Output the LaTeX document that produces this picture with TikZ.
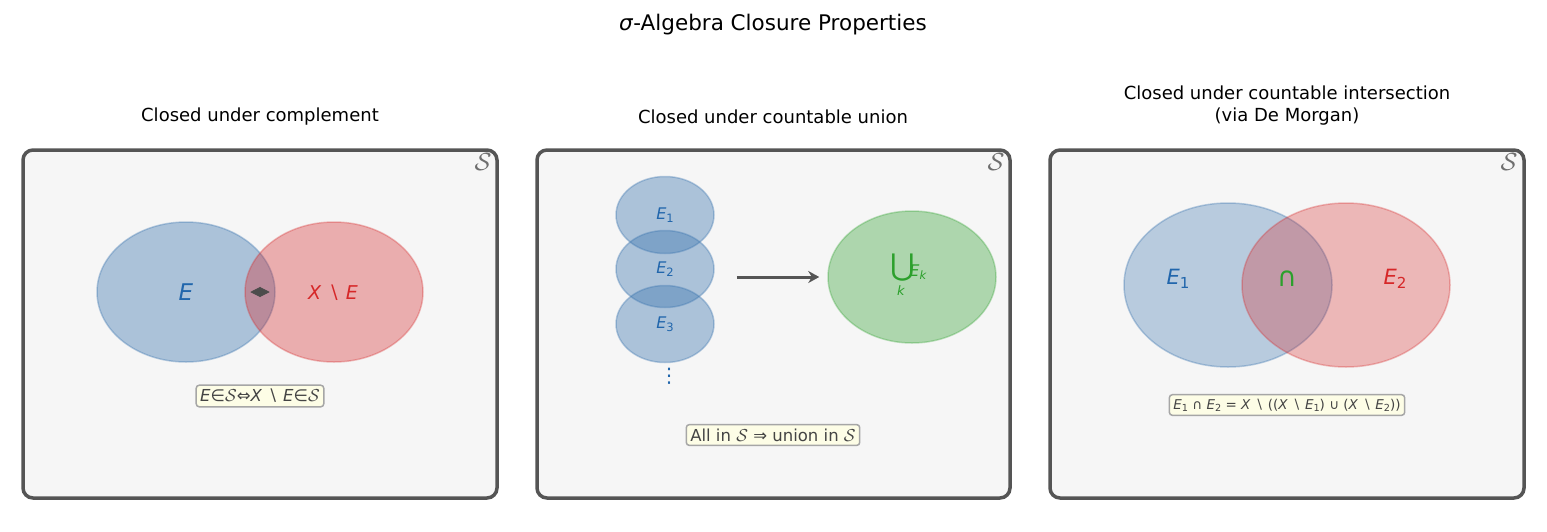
\documentclass[tikz,border=0pt]{standalone}
\usepackage{fontspec}
\setmainfont{DejaVu Sans}[ItalicFont={DejaVu Sans Oblique}]
\usepackage{tikz}
\usetikzlibrary{arrows.meta,shapes.geometric}
\definecolor{frame}{HTML}{555555}
\definecolor{panelbg}{HTML}{F6F6F6}
\definecolor{setblue}{HTML}{3B75AF}
\definecolor{setred}{HTML}{D62728}
\definecolor{setgreen}{HTML}{2CA02C}
\definecolor{lblblue}{HTML}{2166AC}
\definecolor{notebg}{HTML}{FDFDE6}
\definecolor{notetext}{HTML}{444444}
\newcommand{\fs}[1]{\fontsize{#1}{#1}\selectfont}
\newcommand{\low}[1]{\raisebox{-.3ex}{\scalebox{.72}{#1}}}
\begin{document}
\begin{tikzpicture}[x=1pt,y=-1pt,
	panel/.style={draw=frame,line width=3.5pt,fill=panelbg,rounded corners=10pt},
	ttl/.style={font=\fontsize{18}{22}\selectfont,align=center},
	corner/.style={text=frame!85,font=\fs{26}},
	blob/.style={ellipse,inner sep=0pt,line width=1.5pt},
	blueset/.style={blob,fill=setblue,fill opacity=.4,draw=setblue,draw opacity=.35},
	redset/.style={blob,fill=setred,fill opacity=.35,draw=setred,draw opacity=.3},
	greenset/.style={blob,fill=setgreen,fill opacity=.36,draw=setgreen,draw opacity=.3},
	note/.style={draw=black!35,fill=notebg,rounded corners=3pt,line width=1.5pt,text=notetext,inner sep=4pt}]
	\useasboundingbox (0,0) rectangle (1547,531);
	\node[font=\fs{21.5}] (title) at (773,25) {\textit{σ}-Algebra Closure Properties};
	\draw[panel] (23,150) rectangle (497,498);
	\draw[panel] (537,150) rectangle (1010,498);
	\draw[panel] (1050,150) rectangle (1524,498);
	\node[ttl] (t1) at (260,117) {Closed under complement};
	\node[ttl] (t2) at (773,117) {Closed under countable union};
	\node[ttl] (t3) at (1287,106) {Closed under countable intersection\\(via De Morgan)};
	\node[corner] (s1) at (483,162) {$\mathcal{S}$};
	\node[corner] (s2) at (996,162) {$\mathcal{S}$};
	\node[corner] (s3) at (1509,162) {$\mathcal{S}$};
	% complement
	\node[blueset,minimum width=178pt,minimum height=140pt] (e) at (186,292) {};
	\node[redset,minimum width=178pt,minimum height=140pt] (ce) at (334,292) {};
	\node[text=lblblue,font=\fs{23}] (elbl) at (186,292) {\textit{E}};
	\node[text=setred,font=\fs{19}] (celbl) at (333,293) {\textit{X} ∖ \textit{E}};
	\draw[{Triangle[length=10pt,width=10pt]}-{Triangle[length=10pt,width=10pt]},draw=frame!90!black,fill=frame!90!black,line width=.8pt,shorten <=6pt,shorten >=6pt] (ce.west) -- (e.east);
	\node[note,font=\fs{16.5}] (n1) at (260,396) {\textit{E}∈$\mathcal{S}$⇔\textit{X} ∖ \textit{E}∈$\mathcal{S}$};
	% union
	\foreach \i/\y in {1/215,2/269,3/324}{
		\node[blueset,minimum width=98pt,minimum height=77pt] (e\i) at (665,\y) {};
		\node[text=lblblue,font=\fs{16}] (l\i) at (665,\y) {\textit{E}\low{\i}};
	}
	\node[text=lblblue,font=\fs{20}] (dots) at (669,376) {⋮};
	\node[greenset,minimum width=168pt,minimum height=132pt] (u) at (912,277) {};
	\node[text=setgreen,font=\fs{30}] (cup) at (903,268) {⋃};
	\node[text=setgreen,font=\fs{13}] (cupk) at (901,291) {\textit{k}};
	\node[text=setgreen,font=\fs{16}] (ek) at (918,272) {\textit{E}\low{\textit{k}}};
	\draw[-{Stealth[length=11pt,width=12pt]},line width=3pt,frame,shorten <=22pt,shorten >=8pt] (e2.east |- u.west) -- (u.west);
	\node[note,font=\fs{16.5}] (n2) at (773,435) {All in $\mathcal{S}$ ⇒ union in $\mathcal{S}$};
	% intersection
	\node[blueset,fill opacity=.33,minimum width=208pt,minimum height=164pt] (a) at (1228,285) {};
	\node[redset,fill opacity=.3,minimum width=208pt,minimum height=164pt] (b) at (1346,285) {};
	\node[text=lblblue,font=\fs{21}] (albl) at (1178,279) {\textit{E}\low{1}};
	\node[text=setgreen,font=\fs{27}] (cap) at (1287,279) {∩};
	\node[text=setred,font=\fs{21}] (blbl) at (1395,279) {\textit{E}\low{2}};
	\node[note,font=\fs{13.5}] (n3) at (1287,405) {\textit{E}\low{1} ∩ \textit{E}\low{2} = \textit{X} ∖ ((\textit{X} ∖ \textit{E}\low{1}) ∪ (\textit{X} ∖ \textit{E}\low{2}))};
\end{tikzpicture}
\end{document}
